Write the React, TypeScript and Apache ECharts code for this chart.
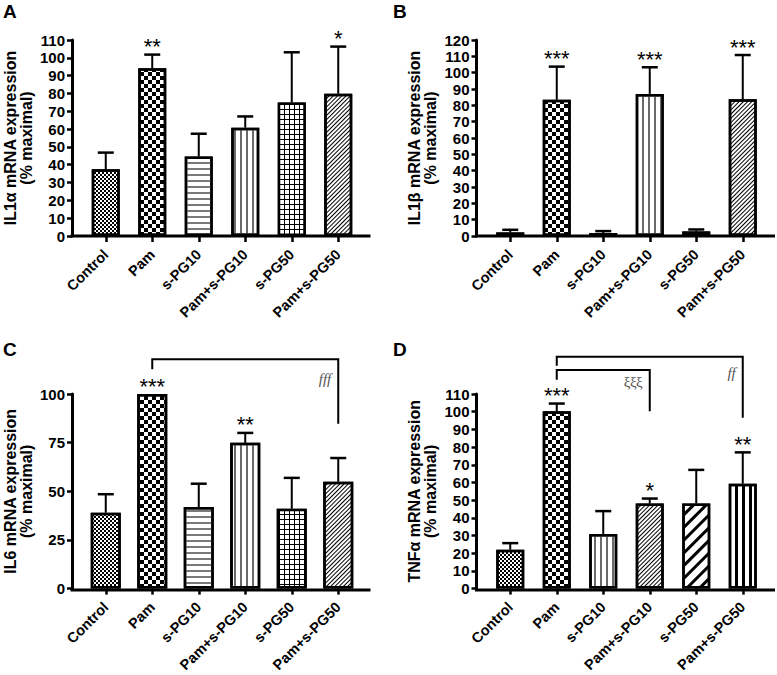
import React, { useEffect, useRef } from 'react';
import * as echarts from 'echarts';

const categories = ['Control', 'Pam', 's-PG10', 'Pam+s-PG10', 's-PG50', 'Pam+s-PG50'];

// Panel A – IL1α
const meanA = [37.5, 94.1, 44.6, 60.8, 74.9, 79.8];
const errTopA = [46.8, 101.8, 57.4, 67.1, 103.1, 106.3];
const starsA = ['', '**', '', '', '', '*'];
// Panel B – IL1β
const meanB = [2.2, 83.4, 1.8, 87.0, 2.8, 83.8];
const errTopB = [3.8, 103.7, 3.0, 103.3, 4.0, 110.8];
const starsB = ['', '***', '', '***', '', '***'];
// Panel C – IL6
const meanC = [39.0, 100, 41.9, 74.9, 41.0, 54.9];
const errTopC = [48.5, 100, 53.9, 80.0, 56.9, 67.1];
const starsC = ['', '***', '', '**', '', ''];
// Panel D – TNFα
const meanD = [22.0, 100.3, 30.9, 48.1, 48.1, 59.3];
const errTopD = [25.7, 104.6, 43.8, 50.9, 67.1, 77.0];
const starsD = ['', '***', '', '*', '', '**'];

// y-axis ticks
const yMax = [110, 120, 100, 110];
const yStep = [10, 10, 25, 10];
const yNames = [
  'IL1\u03b1 mRNA expression\n(% maximal)',
  'IL1\u03b2 mRNA expression\n(% maximal)',
  'IL6 mRNA expression\n(% maximal)',
  'TNF\u03b1 mRNA expression\n(% maximal)',
];
const panelLetters = ['A', 'B', 'C', 'D'];

// significance brackets (from category, to category, levels in axis units)
const bracketsC = [{ from: 1, to: 5, top: 117.8, fromEnd: 112.7, toEnd: 84.7, label: 'fff', labelY: 107.6, italic: true }];
const bracketsD = [
  { from: 1, to: 5, top: 131.0, fromEnd: 126.0, toEnd: 96.6, label: 'ff', labelY: 122.0, italic: true },
  { from: 1, to: 3, top: 123.6, fromEnd: 118.0, toEnd: 100.3, label: '\u03be\u03be\u03be', labelY: 117.0, italic: false },
];

const FONT = '"Liberation Sans", Arial, sans-serif';

// pattern styles
const decals: Record<string, any> = {
  fineChecker: { dashArrayX: [[2, 2], [0, 2, 2, 0]], dashArrayY: [2, 0], color: '#000' },
  checker: { dashArrayX: [[4, 4], [0, 4, 4, 0]], dashArrayY: [4, 0], color: '#000' },
  hLines: { dashArrayX: [10, 0], dashArrayY: [2, 4], color: '#7a7a7a' },
  vLines: { dashArrayX: [2, 4], dashArrayY: [10, 0], color: '#6a6a6a' },
  grid: { dashArrayX: [4, 1], dashArrayY: [4, 1], color: '#fff' },
  fineDiag: { dashArrayX: [10, 0], dashArrayY: [1, 2], color: '#000', rotation: -Math.PI / 4 },
  thickDiag: { dashArrayX: [10, 0], dashArrayY: [3, 6], color: '#000', rotation: -Math.PI / 4 },
  thickV: { dashArrayX: [3, 4], dashArrayY: [10, 0], color: '#000' },
};
const patternsA = ['fineChecker', 'checker', 'hLines', 'vLines', 'grid', 'fineDiag'];
const patternsB = ['fineChecker', 'checker', 'hLines', 'vLines', 'grid', 'fineDiag'];
const patternsC = ['fineChecker', 'checker', 'hLines', 'vLines', 'grid', 'fineDiag'];
const patternsD = ['fineChecker', 'checker', 'vLines', 'fineDiag', 'thickDiag', 'thickV'];

// layout
const colAxisX = [72, 476.5];
const rowTop = [40, 394];
const plotH = 196;
const bandOffset = 10.5;
const plotW = 279;
const lineExtra = 9;

function itemStyleFor(name: string) {
  const d = decals[name];
  return {
    color: name === 'grid' ? '#000' : '#fff',
    borderColor: '#000',
    borderWidth: 2.5,
    decal: {
      symbol: 'rect',
      symbolSize: 1,
      symbolKeepAspect: false,
      rotation: 0,
      ...d,
    },
  };
}

function errorRenderItem(stars: string[]) {
  return (params: any, api: any) => {
    const i = api.value(0);
    const mean = api.value(1);
    const top = api.value(2);
    const p0 = api.coord([i, mean]);
    const p1 = api.coord([i, top]);
    const children: any[] = [];
    if (top > mean) {
      children.push({ type: 'line', shape: { x1: p0[0], y1: p0[1], x2: p1[0], y2: p1[1] }, style: { stroke: '#000', lineWidth: 2 } });
      children.push({ type: 'line', shape: { x1: p1[0] - 8, y1: p1[1], x2: p1[0] + 8, y2: p1[1] }, style: { stroke: '#000', lineWidth: 2.5 } });
    }
    const s = stars[params.dataIndex];
    if (s) {
      children.push({
        type: 'text',
        x: p1[0],
        y: Math.min(p0[1], p1[1]) - 8,
        style: { text: s, fill: '#000', font: `22px ${FONT}`, align: 'center', verticalAlign: 'middle' },
      });
    }
    return { type: 'group', children };
  };
}

function bracketRenderItem(brackets: any[]) {
  return (params: any, api: any) => {
    const b = brackets[params.dataIndex];
    const a0 = api.coord([b.from, b.fromEnd]);
    const a1 = api.coord([b.from, b.top]);
    const b1 = api.coord([b.to, b.top]);
    const b0 = api.coord([b.to, b.toEnd]);
    const t = api.coord([b.to, b.labelY]);
    return {
      type: 'group',
      children: [
        { type: 'polyline', shape: { points: [a0, a1, b1, b0] }, style: { stroke: '#000', lineWidth: 2, fill: 'none' } },
        {
          type: 'text',
          x: t[0] - 7,
          y: t[1],
          style: {
            text: b.label,
            fill: '#555',
            font: `${b.italic ? 'italic ' : ''}15px "Liberation Serif", "DejaVu Serif", serif`,
            align: 'right',
            verticalAlign: 'middle',
          },
        },
      ],
    };
  };
}

export default function App() {
  const ref = useRef<HTMLDivElement>(null);
  useEffect(() => {
    if (!ref.current) return;
    const chart = echarts.init(ref.current, undefined, { renderer: 'svg' });
    const means = [meanA, meanB, meanC, meanD];
    const errs = [errTopA, errTopB, errTopC, errTopD];
    const stars = [starsA, starsB, starsC, starsD];
    const patterns = [patternsA, patternsB, patternsC, patternsD];
    const brackets = [[], [], bracketsC, bracketsD];

    const grids: any[] = [];
    const xAxes: any[] = [];
    const yAxes: any[] = [];
    const series: any[] = [];
    const graphics: any[] = [];

    for (let p = 0; p < 4; p++) {
      const col = p % 2;
      const row = Math.floor(p / 2);
      const axisX = colAxisX[col];
      const top = rowTop[row];
      grids.push({ left: axisX + bandOffset, top, width: plotW, height: plotH, containLabel: false });
      xAxes.push({
        gridIndex: p,
        type: 'category',
        data: categories,
        axisLine: { show: false },
        axisTick: { show: true, alignWithLabel: true, length: 6, lineStyle: { color: '#000', width: 2.5 } },
        axisLabel: { rotate: 45, interval: 0, color: '#000', fontWeight: 'bold', fontSize: 14.5, fontFamily: FONT, margin: 16 },
      });
      yAxes.push({
        gridIndex: p,
        type: 'value',
        min: 0,
        max: yMax[p],
        interval: yStep[p],
        offset: bandOffset,
        axisLine: { show: true, lineStyle: { color: '#000', width: 3 } },
        axisTick: { show: true, length: 5, lineStyle: { color: '#000', width: 2.5 } },
        axisLabel: { color: '#000', fontWeight: 'bold', fontSize: 15, fontFamily: FONT, margin: 7 },
        splitLine: { show: false },
        name: yNames[p],
        nameLocation: 'middle',
        nameGap: 38,
        nameTextStyle: { color: '#000', fontWeight: 'bold', fontSize: 16, fontFamily: FONT, lineHeight: 16 },
      });
      series.push({
        type: 'bar',
        xAxisIndex: p,
        yAxisIndex: p,
        barWidth: p === 2 ? 30 : 28,
        data: means[p].map((v, i) => ({ value: v, itemStyle: itemStyleFor(patterns[p][i]) })),
      });
      series.push({
        type: 'custom',
        xAxisIndex: p,
        yAxisIndex: p,
        renderItem: errorRenderItem(stars[p]),
        data: means[p].map((v, i) => [i, v, errs[p][i]]),
        z: 5,
      });
      if (brackets[p].length) {
        series.push({
          type: 'custom',
          xAxisIndex: p,
          yAxisIndex: p,
          clip: false,
          renderItem: bracketRenderItem(brackets[p]),
          data: brackets[p].map((b: any) => [b.from, b.top]),
          z: 6,
        });
      }
      graphics.push({
        type: 'line',
        shape: { x1: axisX - 1.5, y1: top + plotH, x2: axisX + bandOffset + plotW + lineExtra, y2: top + plotH },
        style: { stroke: '#000', lineWidth: 3 },
        z: 10,
      });
      graphics.push({
        type: 'text',
        left: col === 0 ? 3 : 393,
        top: row === 0 ? 2 : 340,
        style: { text: panelLetters[p], font: `bold 19px ${FONT}`, fill: '#000' },
      });
    }

    chart.setOption({
      animation: false,
      backgroundColor: '#fff',
      grid: grids,
      xAxis: xAxes,
      yAxis: yAxes,
      series,
      graphic: graphics,
    });
    return () => chart.dispose();
  }, []);
  return <div ref={ref} style={{ position: 'absolute', left: 0, top: 0, width: 777, height: 675 }} />;
}
